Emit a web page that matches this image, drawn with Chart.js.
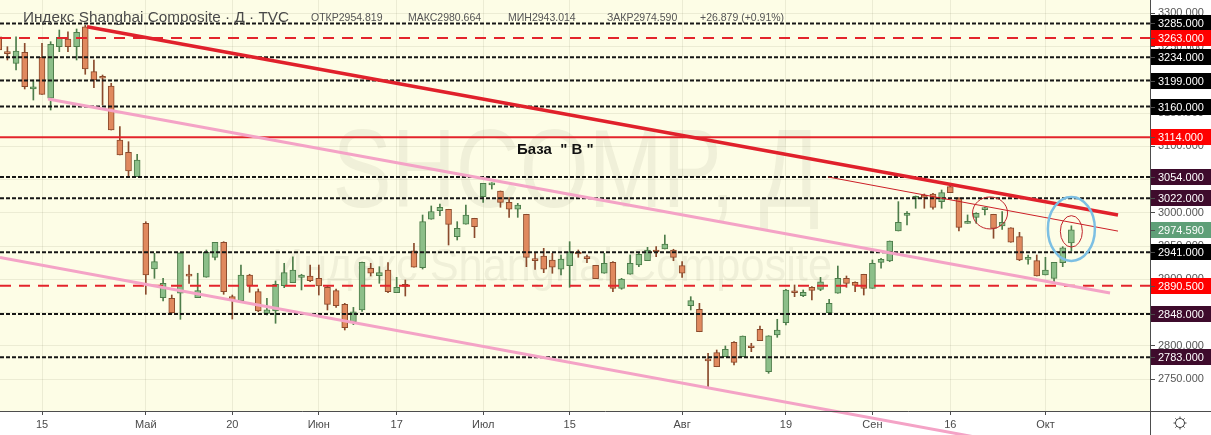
<!DOCTYPE html>
<html><head><meta charset="utf-8">
<script src="https://cdn.jsdelivr.net/npm/chart.js@4/dist/chart.umd.min.js"></script>
<style>html,body{margin:0;padding:0;background:#fff;overflow:hidden}#wrap{width:1211px;height:435px;position:relative}</style>
</head><body><div id="wrap"><canvas id="c" width="1211" height="435"></canvas></div>
<script>
// ---------- data ----------
const dates = [
'2019-04-08','2019-04-09','2019-04-10','2019-04-11','2019-04-12','2019-04-15','2019-04-16','2019-04-17','2019-04-18','2019-04-19',
'2019-04-22','2019-04-23','2019-04-24','2019-04-25','2019-04-26','2019-04-29','2019-04-30','2019-05-06','2019-05-07','2019-05-08',
'2019-05-09','2019-05-10','2019-05-13','2019-05-14','2019-05-15','2019-05-16','2019-05-17','2019-05-20','2019-05-21','2019-05-22',
'2019-05-23','2019-05-24','2019-05-27','2019-05-28','2019-05-29','2019-05-30','2019-05-31','2019-06-03','2019-06-04','2019-06-05',
'2019-06-06','2019-06-10','2019-06-11','2019-06-12','2019-06-13','2019-06-14','2019-06-17','2019-06-18','2019-06-19','2019-06-20',
'2019-06-21','2019-06-24','2019-06-25','2019-06-26','2019-06-27','2019-06-28','2019-07-01','2019-07-02','2019-07-03','2019-07-04',
'2019-07-05','2019-07-08','2019-07-09','2019-07-10','2019-07-11','2019-07-12','2019-07-15','2019-07-16','2019-07-17','2019-07-18',
'2019-07-19','2019-07-22','2019-07-23','2019-07-24','2019-07-25','2019-07-26','2019-07-29','2019-07-30','2019-07-31','2019-08-01',
'2019-08-02','2019-08-05','2019-08-06','2019-08-07','2019-08-08','2019-08-09','2019-08-12','2019-08-13','2019-08-14','2019-08-15',
'2019-08-16','2019-08-19','2019-08-20','2019-08-21','2019-08-22','2019-08-23','2019-08-26','2019-08-27','2019-08-28','2019-08-29',
'2019-08-30','2019-09-02','2019-09-03','2019-09-04','2019-09-05','2019-09-06','2019-09-09','2019-09-10','2019-09-11','2019-09-12',
'2019-09-16','2019-09-17','2019-09-18','2019-09-19','2019-09-20','2019-09-23','2019-09-24','2019-09-25','2019-09-26','2019-09-27',
'2019-09-30','2019-10-08','2019-10-09','2019-10-10','2019-10-11'];

const opens = [
3265,3240,3225,3241.6,3186.4,3234,3172.4,3250,3261.6,3250,
3280,3212.4,3204.4,3190.9,3109.7,3091.2,3054.5,2984.4,2915.7,2872.6,
2871.7,2879.2,2906,2872.6,2903.3,2933.3,2955.9,2874.1,2868.1,2906.7,
2881.6,2849.1,2852.6,2890.6,2895.2,2903.2,2905.2,2901.7,2888.2,2883.1,
2862.6,2836.5,2854.1,2916.8,2905.7,2914.2,2880.1,2891.2,2943.2,2917.7,
2990.5,3003.4,3005.5,2964.3,2983.0,2992.0,3024.4,3042.1,3033.0,3016.0,
3005.5,2998.0,2930.0,2935.3,2929.3,2915.3,2920.7,2940.2,2933.3,2921.3,
2909.3,2925.8,2886.7,2907.8,2921.8,2928.2,2943.8,2945.8,2944.3,2920.7,
2860.5,2855.1,2778.5,2789.9,2783.9,2805.5,2783.9,2798.5,2825.1,2761.3,
2816.5,2835.0,2882.0,2875.6,2888.0,2885.2,2850.0,2879.2,2901.7,2895.7,
2907.8,2886.7,2925.8,2927.8,2972.9,2996.4,3022.0,3027.0,3028.5,3017.0,
3039.5,3022.9,2984.4,2993.4,3005.0,2998.0,2980.4,2977.8,2964.3,2930.2,
2928.2,2906.7,2901.7,2925.2,2954.819];

const highs = [
3270.6,3250,3265,3255,3199.9,3255,3257.5,3275.1,3272.5,3276.6,
3282,3230,3207.4,3195,3129.7,3107.1,3088.2,2986.8,2939.3,2901.7,
2876.6,2940.2,2921.8,2909.3,2944.3,2955.9,2956.8,2876.6,2921.7,2907.8,
2885.7,2871.7,2897.7,2924.3,2934.2,2907.8,2921.7,2921.7,2890.6,2885.7,
2864.1,2858,2926,2924.3,2919.2,2925.2,2903.2,2899.2,2954.4,2996.9,
3010.5,3013.5,3005.5,2986.9,3011.9,2992.0,3044.6,3045.5,3033.0,3023.0,
3014.5,2998.0,2939.3,2946.8,2939.3,2936.8,2956.8,2944.3,2936.8,2921.3,
2939.3,2926.8,2901.7,2936.8,2939.3,2948.3,2949.3,2966.8,2945.4,2926.8,
2874.1,2864.1,2789.0,2793.9,2800.0,2806.4,2815.0,2804.0,2830.0,2815.4,
2840.1,2885.2,2891.7,2884.2,2889.1,2903.2,2870.2,2920.2,2905.2,2896.6,
2907.8,2929.3,2931.8,2957.8,3017.0,3002.0,3025.5,3028.5,3029.5,3034.5,
3042.1,3022.9,2997.0,3000.4,3008.5,2998.0,3001.9,2977.8,2970.9,2936.8,
2936.8,2933.3,2925.8,2949.3,2980.664];

const lows = [
3242,3230,3215,3186.4,3169.8,3178.4,3154.8,3242.5,3242.5,3230,
3208.5,3188.3,3162.3,3124.7,3087.1,3054.5,3054.5,2877.7,2901.7,2867.6,
2849.3,2840.1,2894.2,2872.6,2903.3,2929.3,2877.7,2840.5,2865.7,2880.7,
2851.5,2846.6,2834.1,2887.6,2895.2,2884.2,2896.6,2876.6,2854.1,2858.1,
2824.0,2832,2852,2905.2,2894.2,2880.1,2880.1,2875.1,2918.3,2915.7,
2990.5,2995.9,2951.8,2959.3,2983.0,2962.8,3016.0,3036.0,3008.5,2993.4,
2993.4,2919.2,2915.2,2910.2,2909.3,2906.7,2888.2,2933.3,2925.2,2901.2,
2909.3,2881.6,2885.2,2907.8,2919.2,2928.2,2934.3,2945.8,2928.2,2903.2,
2854.1,2821.4,2738.8,2768.8,2783.9,2771.4,2783.9,2791.4,2808.0,2758.9,
2813.0,2831.5,2874.1,2874.1,2869.1,2883.1,2850.0,2879.2,2888.2,2881.6,
2876.6,2886.7,2916.8,2926.8,2972.9,2981.9,3007.0,3007.0,3005.5,3007.0,
3030.5,2972.9,2984.4,2984.4,2997.0,2961.9,2975.4,2955.9,2928.2,2922.8,
2905.2,2906.7,2896.6,2919.2,2943.014];

const closes = [
3245,3239.5,3243.5,3189.8,3189.8,3178.4,3253.6,3264.1,3250,3271.6,
3216.5,3199.9,3202.5,3124.7,3087.1,3063.1,3079.6,2906.7,2926.7,2894.2,
2850.0,2940.2,2905.0,2883.1,2940.8,2955.9,2881.6,2869.1,2906.7,2890.6,
2852.6,2854.5,2892.7,2910.2,2914.2,2906.7,2898.1,2890.2,2862.6,2860.5,
2827.5,2851.5,2925.8,2909.3,2910.2,2881.6,2888.2,2889.7,2918.3,2986.9,
3001.9,3008.5,2982.9,2976.9,2996.9,2979.4,3044.6,3044.6,3016.0,3005.5,
3012.0,2933.3,2928.2,2915.3,2918.3,2930.8,2941.7,2938.3,2931.2,2901.2,
2924.3,2886.7,2900.7,2924.3,2937.8,2944.3,2941.3,2953.3,2933.3,2909.3,
2868.1,2821.4,2777.6,2768.8,2795.0,2775.4,2815.0,2797.3,2808.0,2815.4,
2824.0,2884.2,2880.0,2880.7,2883.4,2896.6,2864.2,2901.7,2894.2,2891.2,
2886.7,2924.3,2930.3,2957.8,2985.9,2999.5,3024.4,3023.5,3008.5,3030.5,
3030.5,2978.4,2985.9,2999.5,3007.0,2976.9,2986.0,2955.9,2929.3,2931.7,
2905.2,2914.2,2925.8,2947.71,2974.59];

// time-axis labels (bar index -> label)
const xTickIndex  = [5, 17, 27, 37, 46, 56, 66, 79, 91, 101, 110, 121];
const xTickLabels = ['15','Май','20','Июн','17','Июл','15','Авг','19','Сен','16','Окт'];
// price-axis ticks
const yTicks = [2750,2800,2850,2900,2950,3000,3050,3100,3150,3200,3250,3300];

// horizontal levels
const levelValues = [3285, 3263, 3234, 3199, 3160, 3114, 3054, 3022, 2941, 2890.5, 2848, 2783];
const levelKinds  = ['dot','dash','dot','dot','dot','solid','dot','dot','dot','dash','dot','dot'];
const levelTags   = ['black','red','black','black','black','red','plum','plum','black','red','plum','plum'];

// trend lines: [startIndex, startValue, endIndex, endValue]
const trendRed      = [10.2, 3280.0, 129.39, 2996.9];
const trendRedThin  = [95.87, 3054.1, 129.39, 2972.7];
const trendPinkHigh = [5.69, 3171.3, 128.47, 2879.6];
const trendPinkLow  = [0.1445, 2932.9, 115.75, 2656.2];

// ellipse marks: [centerIndex, centerValue]
const ovalRed1  = [114.6, 3000.0];
const ovalRed2  = [124.0, 2972.3];
const ovalBlue  = [124.0, 2976.0];

const lastInfo = ['ОТКР2954.819', 'МАКС2980.664', 'МИН2943.014', 'ЗАКР2974.590', '+26.879 (+0.91%)'];
const lastPrice = 2974.59;

// ---------- styles ----------
const UP_FILL = '#8cbf89', UP_LINE = '#4d7d4a';
const DN_FILL = '#e0895e', DN_LINE = '#8a4a2c';
const PLOT_BG = '#fdfde6';
const FONT = "'Liberation Sans', Arial, sans-serif";
const X_MIN = 0.1445, X_MAX = 133.09, Y_MIN = 2702.2, Y_MAX = 3320.2;
const tagColor = {black:'#000000', red:'#ff0000', plum:'#3e0b2c'};
const lineStyle = {
  dot:   {color:'#161616', width:2, dash:[4,2]},
  dash:  {color:'#e3242b', width:2, dash:[11,8]},
  solid: {color:'#e3242b', width:2, dash:[]}
};
const infoX = [311, 408, 508, 607, 700];

// ---------- datasets ----------
const up = closes.map((c,i)=>c>=opens[i]);
const wickData = dates.map((d,i)=>({x:i, y:[lows[i], highs[i]]}));
const bodyData = dates.map((d,i)=>({x:i, y:[opens[i], closes[i]]}));

const datasets = [];
levelValues.forEach((v,k)=>{
  const st = lineStyle[levelKinds[k]];
  datasets.push({type:'line', data:[{x:X_MIN,y:v},{x:X_MAX,y:v}], borderColor:st.color, borderWidth:st.width,
    borderDash:st.dash, pointRadius:0, fill:false, order:5});
});
function seg(t){ return [{x:t[0],y:t[1]},{x:t[2],y:t[3]}]; }
datasets.push({type:'line', data:seg(trendPinkHigh), borderColor:'#f4a3c6', borderWidth:3, pointRadius:0, fill:false, order:3});
datasets.push({type:'line', data:seg(trendPinkLow), borderColor:'#f4a3c6', borderWidth:3, pointRadius:0, fill:false, order:3, clip:false});
datasets.push({type:'line', data:seg(trendRed), borderColor:'#e0212b', borderWidth:3.5, pointRadius:0, fill:false, order:2});
datasets.push({type:'line', data:seg(trendRedThin), borderColor:'#cc1f26', borderWidth:1, pointRadius:0, fill:false, order:2});
datasets.push({type:'bar', data:wickData, grouped:false, barThickness:1, backgroundColor:up.map(u=>u?UP_LINE:DN_LINE), borderWidth:0, order:20});
datasets.push({type:'bar', data:bodyData, grouped:false, barThickness:6, minBarLength:2,
  backgroundColor:up.map(u=>u?UP_FILL:DN_FILL), borderColor:up.map(u=>u?UP_LINE:DN_LINE), borderWidth:1, borderSkipped:false, order:10});

// ---------- decorations plugin ----------
const deco = {
  id:'deco',
  beforeDraw(chart){
    const c = chart.ctx, a = chart.chartArea;
    c.save();
    c.fillStyle = '#ffffff'; c.fillRect(0,0,chart.width,chart.height);
    c.fillStyle = PLOT_BG; c.fillRect(a.left,a.top,a.right-a.left,a.bottom-a.top);
    c.restore();
  },
  beforeDatasetsDraw(chart){
    const c = chart.ctx;
    c.save();
    c.fillStyle = 'rgba(90,90,60,0.08)';
    c.textAlign = 'center'; c.textBaseline = 'alphabetic';
    c.font = '112px ' + FONT;
    let w = c.measureText('SHCOMP, Д').width;
    c.save(); c.translate(576, 207); c.scale(487/w, 1); c.fillText('SHCOMP, Д', 0, 0); c.restore();
    c.font = '46px ' + FONT;
    w = c.measureText('Индекс Shanghai Composite').width;
    c.save(); c.translate(552, 281); c.scale(560/w, 1); c.fillText('Индекс Shanghai Composite', 0, 0); c.restore();
    c.restore();
  },
  afterDatasetsDraw(chart){
    const c = chart.ctx, xs = chart.scales.x, ys = chart.scales.y;
    c.save();
    function oval(p, rx, ry, col, lw){
      c.beginPath(); c.ellipse(xs.getPixelForValue(p[0]), ys.getPixelForValue(p[1]), rx, ry, 0, 0, Math.PI*2);
      c.strokeStyle = col; c.lineWidth = lw; c.stroke();
    }
    oval(ovalRed1, 17.5, 16, '#c0242c', 1);
    oval(ovalRed2, 11, 15.7, '#c0242c', 1);
    oval(ovalBlue, 23.5, 32, '#7cbfe3', 2.5);
    c.fillStyle = '#111'; c.font = 'bold 15px ' + FONT; c.textBaseline = 'middle'; c.textAlign = 'left';
    c.fillText('База  " В "', 517, 150);
    c.restore();
  },
  afterDraw(chart){
    const c = chart.ctx, ys = chart.scales.y, a = chart.chartArea;
    c.save();
    c.strokeStyle = '#4d4d4d'; c.lineWidth = 1;
    c.beginPath(); c.moveTo(0, a.bottom+0.5); c.lineTo(chart.width, a.bottom+0.5); c.stroke();
    c.beginPath(); c.moveTo(a.right+0.5, 0); c.lineTo(a.right+0.5, chart.height); c.stroke();
    c.font = '11px ' + FONT; c.textBaseline = 'middle'; c.textAlign = 'left';
    const tags = levelValues.map((v,k)=>({v, col:tagColor[levelTags[k]]}));
    tags.push({v:lastPrice, col:'#5f9f78'});
    tags.forEach(t=>{
      const y = Math.round(ys.getPixelForValue(t.v));
      c.fillStyle = t.col; c.fillRect(a.right+1, y-8, chart.width-a.right-1, 16);
      c.fillStyle = '#4d4d4d'; c.fillRect(a.right+1, y, 4, 1);
      c.fillStyle = '#ffffff'; c.fillText(t.v.toFixed(3), a.right+8, y+0.5);
    });
    c.textBaseline = 'alphabetic';
    c.fillStyle = '#4a4a4a'; c.font = '15px ' + FONT;
    const title = 'Индекс Shanghai Composite · Д · TVC';
    const tw = c.measureText(title).width;
    c.save(); c.translate(23, 22); c.scale(266/tw, 1); c.fillText(title, 0, 0); c.restore();
    c.font = '10.5px ' + FONT; c.fillStyle = '#555';
    lastInfo.forEach((s,k)=> c.fillText(s, infoX[k], 21));
    const cx = 1180, cy = 423;
    c.strokeStyle = '#444'; c.lineWidth = 1;
    c.beginPath(); c.arc(cx, cy, 4.5, 0, Math.PI*2); c.stroke();
    for (let k=0;k<8;k++){ const an = k*Math.PI/4; c.beginPath();
      c.moveTo(cx+Math.cos(an)*4.5, cy+Math.sin(an)*4.5); c.lineTo(cx+Math.cos(an)*6.5, cy+Math.sin(an)*6.5); c.stroke(); }
    c.restore();
  }
};

new Chart(document.getElementById('c'), {
  type:'bar',
  data:{datasets},
  options:{
    responsive:false, animation:false, events:[],
    layout:{padding:0},
    plugins:{legend:{display:false}, tooltip:{enabled:false}},
    scales:{
      x:{type:'linear', min:X_MIN, max:X_MAX, offset:false,
        border:{display:false},
        grid:{offset:false, color:'rgba(120,120,90,0.13)', drawTicks:true, tickLength:4, tickColor:'#4d4d4d'},
        ticks:{autoSkip:false, maxRotation:0, color:'#4a4a4a', font:{size:11, family:FONT}, padding:3,
          callback:(v)=>{ const k = xTickIndex.indexOf(v); return k>=0 ? xTickLabels[k] : ''; }},
        afterBuildTicks:(s)=>{ s.ticks = xTickIndex.map(v=>({value:v})); },
        afterFit:(s)=>{ s.height = 24; s.paddingLeft = 0; s.paddingRight = 0; }
      },
      y:{type:'linear', position:'right', min:Y_MIN, max:Y_MAX,
        border:{display:false},
        grid:{color:'rgba(120,120,90,0.13)', tickLength:5, tickColor:'#4d4d4d'},
        ticks:{color:'#555', font:{size:11, family:FONT}, padding:3, callback:(v)=>Number(v).toFixed(3)},
        afterBuildTicks:(s)=>{ s.ticks = yTicks.map(v=>({value:v})); },
        afterFit:(s)=>{ s.width = 61; s.paddingTop = 0; s.paddingBottom = 0; }
      }
    }
  },
  plugins:[deco]
});
</script></body></html>
